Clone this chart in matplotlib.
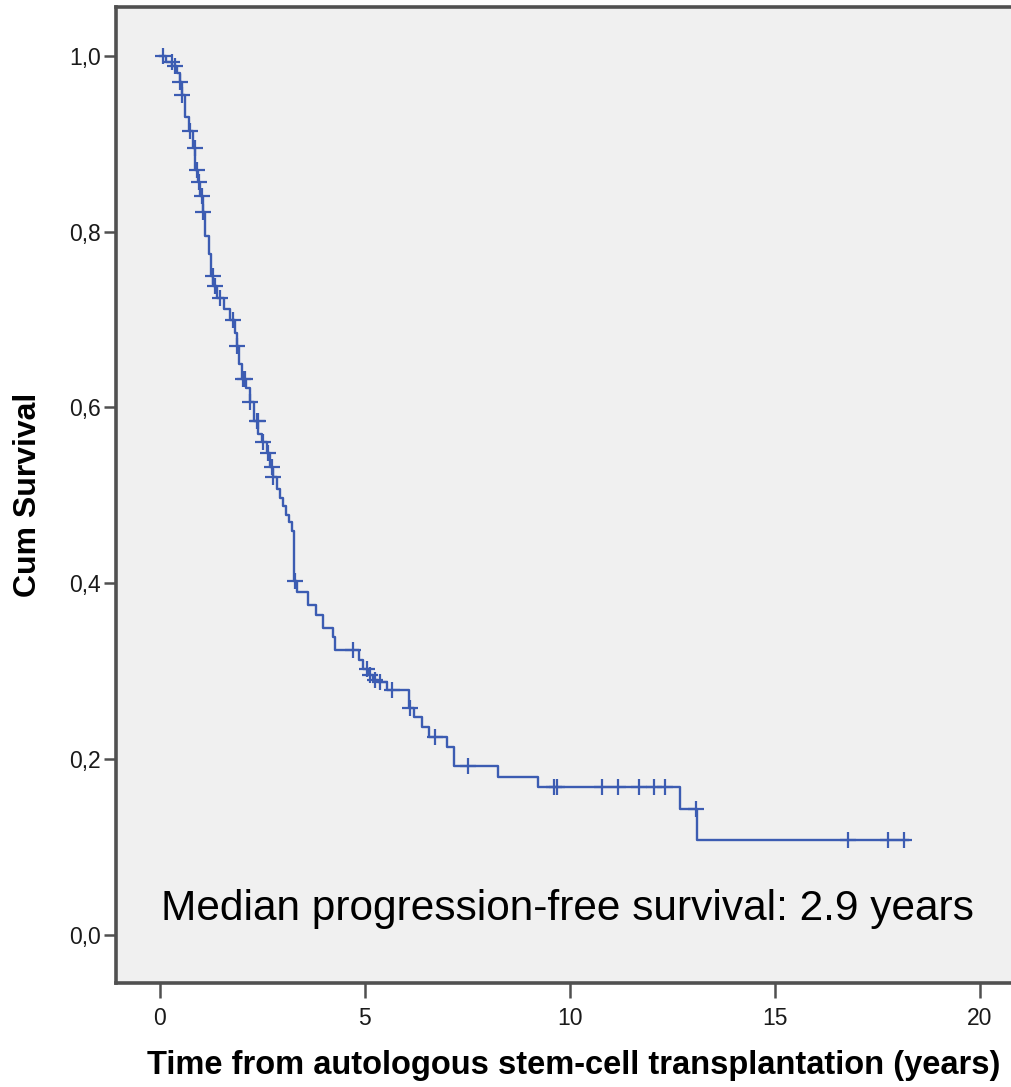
import matplotlib
matplotlib.use("Agg")
import matplotlib.pyplot as plt
import numpy as np
from matplotlib.ticker import FuncFormatter

plt.rcParams["font.family"] = ["Liberation Sans", "DejaVu Sans"]

# Kaplan-Meier step curve: time (years) where each step
# starts, and survival level after it
step_times = [
    0.0, 0.15, 0.30, 0.42, 0.48, 0.53, 0.60, 0.70, 0.80, 0.86, 0.92, 0.98,
    1.04, 1.10, 1.20, 1.25, 1.30, 1.40, 1.55, 1.70, 1.82, 1.88, 1.93, 2.00,
    2.10, 2.20, 2.30, 2.40, 2.50, 2.60, 2.68, 2.76, 2.85, 2.93, 3.00, 3.08,
    3.15, 3.22, 3.26, 3.34, 3.62, 3.80, 3.98, 4.22, 4.27, 4.85, 4.95, 5.10,
    5.20, 5.32, 5.54, 6.08, 6.20, 6.40, 6.55, 7.00, 7.17, 8.24, 9.22, 12.68,
    13.10,
]
step_surv = [
    1.000, 0.993, 0.988, 0.981, 0.970, 0.955, 0.930, 0.915, 0.895, 0.870,
    0.857, 0.840, 0.822, 0.795, 0.775, 0.750, 0.738, 0.725, 0.712, 0.700,
    0.685, 0.670, 0.650, 0.632, 0.622, 0.606, 0.585, 0.570, 0.561, 0.548,
    0.532, 0.521, 0.507, 0.497, 0.488, 0.478, 0.470, 0.460, 0.403, 0.390,
    0.375, 0.364, 0.349, 0.339, 0.324, 0.313, 0.302, 0.296, 0.290, 0.288,
    0.279, 0.258, 0.248, 0.237, 0.225, 0.214, 0.192, 0.180, 0.168, 0.143,
    0.108,
]
last_followup = 18.25

# censored observations (years)
censor_times = [
    0.07, 0.29, 0.37, 0.49, 0.54, 0.73, 0.85, 0.90, 0.95, 1.02, 1.05, 1.29,
    1.34, 1.46, 1.78, 1.88, 2.02, 2.07, 2.20, 2.37, 2.39, 2.51, 2.63, 2.73,
    2.76, 3.29, 4.71, 5.05, 5.12, 5.24, 5.37, 5.66, 6.10, 6.71, 7.51, 9.60,
    9.68, 10.78, 11.17, 11.68, 12.05, 12.32, 13.07, 16.78, 17.76, 18.15,
]

y_ticks = [0.0, 0.2, 0.4, 0.6, 0.8, 1.0]
x_ticks = [0, 5, 10, 15, 20]

LINE_COLOR = "#3C5CB2"
FRAME_COLOR = "#505050"

fig = plt.figure(figsize=(10.11, 10.87), dpi=100)
ax = fig.add_axes([0.1147, 0.0957, 0.898, 0.898])
ax.set_facecolor("#F0F0F0")

times = np.array(step_times + [last_followup])
surv = np.array(step_surv + [step_surv[-1]])
ax.step(times, surv, where="post", color=LINE_COLOR, linewidth=1.7)

# censor marks sit on the curve
idx = np.searchsorted(np.array(step_times), censor_times, side="right") - 1
censor_surv = np.array(step_surv)[idx]
ax.plot(censor_times, censor_surv, linestyle="none", marker="+",
        markersize=12, markeredgewidth=1.6, color=LINE_COLOR)

ax.set_xlim(-1.073, 21.07)
ax.set_ylim(-0.0546, 1.0557)
ax.set_xticks(x_ticks)
ax.set_yticks(y_ticks)
ax.yaxis.set_major_formatter(FuncFormatter(lambda v, _: f"{v:.1f}".replace(".", ",")))

ax.tick_params(axis="both", direction="out", width=1.8,
               color=FRAME_COLOR, labelsize=16.5, labelcolor="#1A1A1A")
ax.tick_params(axis="x", length=11, pad=6)
ax.tick_params(axis="y", length=9, pad=2)

for side in ("left", "bottom", "top", "right"):
    ax.spines[side].set_color(FRAME_COLOR)
    ax.spines[side].set_linewidth(2.6)

ax.text(9.95, 0.030, "Median progression-free survival: 2.9 years",
        ha="center", va="center", fontsize=30.5, color="black")

fig.text(0.567, 0.0195, "Time from autologous stem-cell transplantation (years)",
         ha="center", va="center", fontsize=23.5, fontweight="bold")
fig.text(0.028, 0.5446, "Cum Survival", ha="center", va="center",
         rotation=90, fontsize=23, fontweight="bold")

fig.savefig("out.png", dpi=100, facecolor="white")
